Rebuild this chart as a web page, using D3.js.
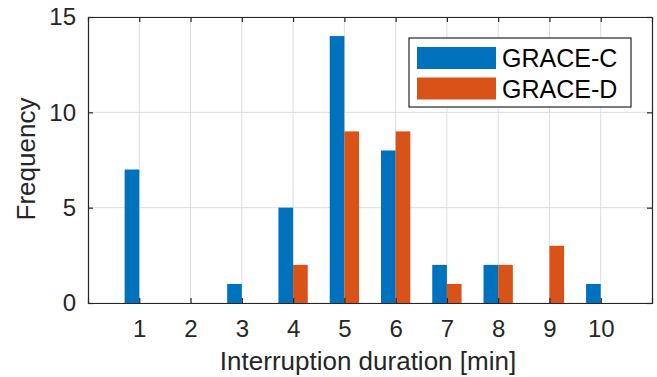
<!DOCTYPE html>
<html>
<head>
<meta charset="utf-8">
<script src="https://cdn.jsdelivr.net/npm/d3@7"></script>
<style>
  body { margin: 0; background: #fff; }
  text { font-family: "Liberation Sans", Arial, sans-serif; fill: #262626; }
</style>
</head>
<body>
<svg id="chart" width="657" height="377"></svg>
<script>
// interruption duration bins [min]
const durations = [1, 2, 3, 4, 5, 6, 7, 8, 9, 10];
const graceC = [7, 0, 1, 5, 14, 8, 2, 2, 0, 1];
const graceD = [0, 0, 0, 2, 9, 9, 1, 2, 3, 0];
const seriesNames = ["GRACE-C", "GRACE-D"];
const seriesColors = ["#0072BD", "#D95319"];
const yTicks = [0, 5, 10, 15];

const svg = d3.select("#chart");
const m = {left: 88, top: 17, right: 5, bottom: 74};
const w = 657 - m.left - m.right;
const h = 377 - m.top - m.bottom;

const x = d3.scaleLinear().domain([0, 11]).range([0, w]);
const y = d3.scaleLinear().domain([0, 15]).range([h, 0]);

const g = svg.append("g").attr("transform", `translate(${m.left},${m.top})`);

// grid
g.append("g")
    .selectAll("line.vg")
    .data(durations)
    .enter()
    .append("line")
    .attr("x1", d => x(d)).attr("x2", d => x(d))
    .attr("y1", 0).attr("y2", h)
    .attr("stroke", "#dedede").attr("stroke-width", 1);
g.append("g")
    .selectAll("line.hg")
    .data(yTicks)
    .enter()
    .append("line")
    .attr("x1", 0).attr("x2", w)
    .attr("y1", d => y(d)).attr("y2", d => y(d))
    .attr("stroke", "#dedede").attr("stroke-width", 1);

// bars
const bw = 0.286;
const rows = durations.map((d, i) => ({d: d, vals: [graceC[i], graceD[i]]}));
seriesNames.forEach((name, s) => {
    g.append("g")
        .selectAll("rect")
        .data(rows)
        .enter()
        .append("rect")
        .attr("x", r => x(r.d - bw + s * bw))
        .attr("width", x(bw) - x(0))
        .attr("y", r => y(r.vals[s]))
        .attr("height", r => y(0) - y(r.vals[s]))
        .attr("fill", seriesColors[s]);
});

// axes
const tickLen = 5;
const xAxisB = d3.axisBottom(x).tickValues(durations).tickSize(-tickLen).tickPadding(17);
const xAxisT = d3.axisTop(x).tickValues(durations).tickSize(-tickLen).tickFormat("");
const yAxisL = d3.axisLeft(y).tickValues(yTicks).tickSize(-tickLen).tickPadding(12);
const yAxisR = d3.axisRight(y).tickValues(yTicks).tickSize(-tickLen).tickFormat("");

function style(sel) {
    sel.select(".domain").attr("stroke", "#262626").attr("stroke-width", 1.2);
    sel.selectAll(".tick line").attr("stroke", "#262626").attr("stroke-width", 1.2);
    sel.selectAll(".tick text").attr("font-size", 24).attr("fill", "#262626")
        .attr("font-family", "Liberation Sans, Arial, sans-serif");
}
g.append("g").attr("transform", `translate(0,${h})`).call(xAxisB).call(style);
g.append("g").call(xAxisT).call(style);
g.append("g").call(yAxisL).call(style);
g.append("g").attr("transform", `translate(${w},0)`).call(yAxisR).call(style);

// labels
svg.append("text")
    .attr("x", m.left + w / 2 - 2).attr("y", 370)
    .attr("text-anchor", "middle")
    .attr("font-size", 26)
    .text("Interruption duration [min]");
svg.append("text")
    .attr("transform", `translate(35,${m.top + h / 2 - 1}) rotate(-90)`)
    .attr("text-anchor", "middle")
    .attr("font-size", 26)
    .text("Frequency");

// legend
const leg = svg.append("g").attr("transform", "translate(409,38)");
leg.append("rect")
    .attr("width", 222).attr("height", 69)
    .attr("fill", "#fff").attr("stroke", "#262626").attr("stroke-width", 1.2);
seriesNames.forEach((name, s) => {
    leg.append("rect")
        .attr("x", 8).attr("y", 9 + s * 30.5)
        .attr("width", 79).attr("height", 22)
        .attr("fill", seriesColors[s]);
    leg.append("text")
        .attr("x", 93).attr("y", 29 + s * 30.5)
        .attr("font-size", 25)
        .style("fill", "#000")
        .text(name);
});
</script>
</body>
</html>
